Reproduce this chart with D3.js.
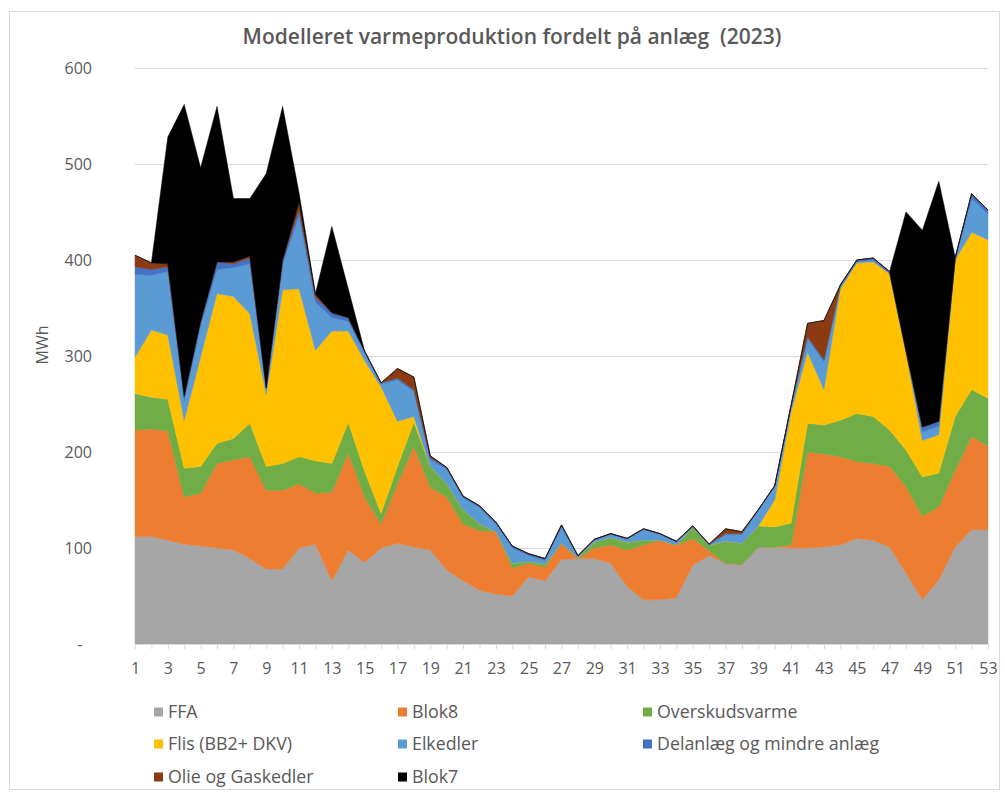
<!DOCTYPE html>
<html>
<head>
<meta charset="utf-8">
<script src="https://cdn.jsdelivr.net/npm/d3@7"></script>
<style>
  html, body { margin: 0; padding: 0; background: #fff; }
  svg { display: block; }
  text { font-family: "Open Sans", "Noto Sans", sans-serif; fill: #595959; }
</style>
</head>
<body>
<svg id="chart" width="1005" height="795"></svg>
<script>
// ---------- data ----------
const weeks = d3.range(1, 54);
const seriesNames = ["FFA", "Blok8", "Overskudsvarme", "Flis (BB2+ DKV)", "Elkedler", "Delanlæg og mindre anlæg", "Olie og Gaskedler", "Blok7"];
const seriesColors = ["#A5A5A5", "#ED7D31", "#70AD47", "#FFC000", "#5B9BD5", "#4472C4", "#8B3A12", "#000000"];

const FFA = [112,112,108,104,102,100,98,89,78,78,100,104,66,98,85,100,105,101,98,77,66,56,52,50,70,66,88,89,89,84,60,46,46,48,82,92,84,83,101,101,100,100,101,103,110,108,101,74,46,67,101,119,119];
const Blok8 = [111,112,114,49,55,88,94,106,82,82,67,53,92,101,68,25,62,105,65,76,59,62,65,29,14,14,17,0,11,19,38,57,62,55,28,5,0,0,0,0,3,100,97,92,80,80,84,90,87,76,80,97,87];
const Overskudsvarme = [38,33,33,30,28,21,22,35,25,28,28,34,30,32,27,11,18,25,22,14,15,7,0,5,2,3,0,1,6,8,8,5,0,0,12,6,23,22,22,21,23,30,30,38,50,49,38,38,41,35,56,49,50];
const Flis = [38,70,67,50,114,156,148,114,75,181,175,115,138,95,115,132,47,6,0,0,0,0,0,0,0,0,0,0,0,0,0,0,0,0,0,0,0,0,0,28,116,74,37,137,157,161,163,102,38,40,163,164,165];
const Elkedler = [86,57,66,20,32,25,30,52,5,26,76,50,14,10,8,3,43,26,7,15,12,17,8,16,6,4,17,1,2,3,3,11,6,3,0,0,7,9,16,14,5,14,29,2,1,2,0,0,9,9,0,35,27];
const Delanlaeg = [8,6,5,5,5,8,4,6,2,5,6,5,5,4,2,1,2,2,2,2,2,2,2,2,2,2,2,1,1,1,1,1,1,1,1,1,1,1,1,1,2,2,2,2,2,2,2,2,5,5,2,5,4];
const Olie = [12,7,3,0,0,0,2,2,0,0,8,3,0,0,0,0,10,13,2,0,0,0,0,0,0,0,0,0,0,0,0,0,0,0,0,0,5,2,0,0,0,14,41,0,0,0,0,0,0,0,0,0,0];
const Blok7 = [0,0,132,304,160,162,66,60,223,160,10,1,90,30,0,0,0,0,0,0,0,0,0,0,0,0,0,0,0,0,0,0,0,0,0,0,0,0,0,0,0,0,0,0,0,0,0,144,205,250,1,0,0];

const yTicks = [0, 100, 200, 300, 400, 500, 600];
const yTickLabels = ["-", "100", "200", "300", "400", "500", "600"];
const xTickLabels = weeks.filter(w => w % 2 === 1);

const seriesData = [FFA, Blok8, Overskudsvarme, Flis, Elkedler, Delanlaeg, Olie, Blok7];
const rows = weeks.map((w, i) => {
  const r = { week: w };
  seriesNames.forEach((n, k) => r[n] = seriesData[k][i]);
  return r;
});

// ---------- layout ----------
const svg = d3.select("#chart");
const plot = { left: 135, right: 988, top: 68, bottom: 644 };

const x = d3.scaleLinear().domain([1, 53]).range([plot.left, plot.right]);
const y = d3.scaleLinear().domain([0, 600]).range([plot.bottom, plot.top]);

// chart border
svg.append("rect")
  .attr("x", 9.5).attr("y", 11.5).attr("width", 990).attr("height", 778)
  .attr("fill", "none").attr("stroke", "#d9d9d9").attr("stroke-width", 1);

// title
svg.append("text")
  .attr("x", 512).attr("y", 44)
  .attr("text-anchor", "middle")
  .style("font-size", "21px").style("font-weight", 600).style("white-space", "pre")
  .text("Modelleret varmeproduktion fordelt på anlæg  (2023)");

// gridlines
svg.append("g").selectAll("line")
  .data(yTicks.filter(t => t > 0))
  .join("line")
  .attr("x1", plot.left).attr("x2", plot.right)
  .attr("y1", d => Math.round(y(d)) + 0.5).attr("y2", d => Math.round(y(d)) + 0.5)
  .attr("stroke", "#d9d9d9").attr("stroke-width", 1);

// stacked areas
const stack = d3.stack().keys(seriesNames).order(d3.stackOrderNone).offset(d3.stackOffsetNone);
const layers = stack(rows);
const area = d3.area()
  .x(d => x(d.data.week))
  .y0(d => y(d[0]))
  .y1(d => y(d[1]));

svg.append("g").selectAll("path")
  .data(layers)
  .join("path")
  .attr("d", area)
  .attr("fill", (d, i) => seriesColors[i])
  .attr("stroke", (d, i) => seriesColors[i])
  .attr("stroke-width", 0.5);

// y axis (labels only)
const yAxis = d3.axisLeft(y).tickValues(yTicks).tickSize(0).tickPadding(0)
  .tickFormat((d, i) => yTickLabels[i]);
const gy = svg.append("g").attr("transform", "translate(92,0)").call(yAxis);
gy.select(".domain").remove();
gy.selectAll("text").style("font-size", "16px").style("fill", "#595959")
  .style("font-family", '"Open Sans", sans-serif');
gy.selectAll(".tick").filter(d => d === 0).select("text")
  .attr("text-anchor", "middle").attr("x", -12);

// x axis
const xAxis = d3.axisBottom(x).tickValues(weeks).tickSize(5).tickPadding(14)
  .tickFormat(d => (xTickLabels.includes(d) ? d : ""));
const gx = svg.append("g").attr("transform", `translate(0,${plot.bottom})`).call(xAxis);
gx.select(".domain").attr("stroke", "#d9d9d9");
gx.selectAll(".tick line").attr("stroke", "#d9d9d9");
gx.selectAll("text").style("font-size", "16px").style("fill", "#595959")
  .style("font-family", '"Open Sans", sans-serif');

// y axis title
svg.append("text")
  .attr("transform", "translate(48,345) rotate(-90)")
  .attr("text-anchor", "middle")
  .style("font-size", "16px")
  .text("MWh");

// legend
const legendCols = [154, 398, 643];
const legendRows = [712, 744, 777];
const lg = svg.append("g");
seriesNames.forEach((n, i) => {
  const cx = legendCols[i % 3];
  const cy = legendRows[Math.floor(i / 3)];
  lg.append("rect").attr("x", cx).attr("y", cy - 4.5).attr("width", 9).attr("height", 9)
    .attr("fill", seriesColors[i]);
  lg.append("text").attr("x", cx + 14).attr("y", cy).attr("dy", "0.35em")
    .style("font-size", "17.8px").text(n);
});
</script>
</body>
</html>
